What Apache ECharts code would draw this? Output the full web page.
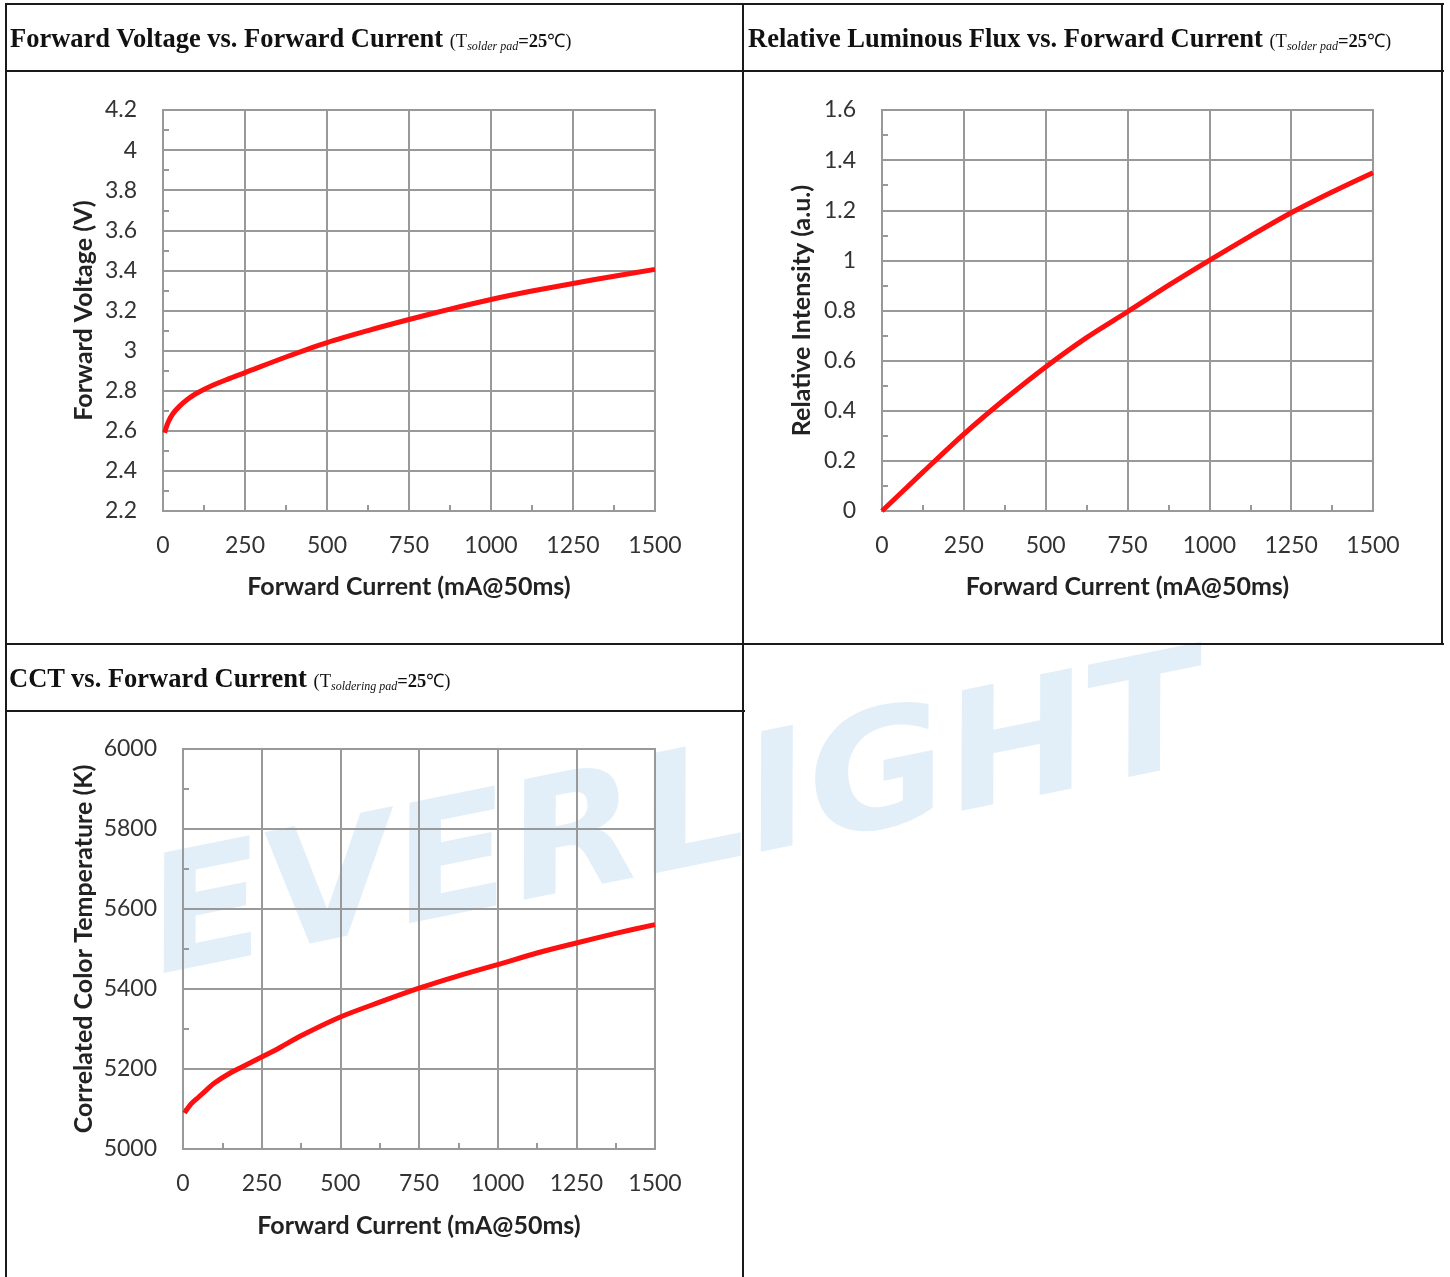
<!DOCTYPE html>
<html>
<head>
<meta charset="utf-8">
<script src="https://cdn.jsdelivr.net/npm/echarts@6/dist/echarts.min.js"></script>
<style>
  body { margin: 0; background: #fff; }
  #page { position: relative; width: 1450px; height: 1277px; overflow: hidden; }
  #chart { position: absolute; left: 0; top: 0; width: 1450px; height: 1277px; }
  .hl, .vl { position: absolute; background: #1a1a1a; }
  .hl { height: 2px; }
  .vl { width: 2px; }
  .head { position: absolute; font-family: "Liberation Serif", serif; font-size: 26.5px; font-weight: bold; color: #111; white-space: nowrap; }
  .head .c { font-size: 18.5px; font-weight: normal; }
  .head sub { font-size: 12px; font-style: italic; vertical-align: -3px; }
  .head .c b { font-weight: bold; }
</style>
</head>
<body>
<div id="page">
  <div id="chart"></div>
  <!-- table borders -->
  <div class="hl" style="left:5px; top:3px; width:1439px"></div>
  <div class="hl" style="left:5px; top:70px; width:1439px"></div>
  <div class="hl" style="left:5px; top:643px; width:1439px"></div>
  <div class="hl" style="left:5px; top:710px; width:740px"></div>
  <div class="vl" style="left:5px; top:3px; height:1274px"></div>
  <div class="vl" style="left:742px; top:3px; height:1274px"></div>
  <div class="vl" style="left:1441px; top:3px; height:642px"></div>
  <!-- headers -->
  <div class="head" style="left:10px; top:23px">Forward Voltage vs. Forward Current <span class="c">(T<sub>solder pad</sub><b>=25</b>℃)</span></div>
  <div class="head" style="left:748px; top:23px">Relative Luminous Flux vs. Forward Current <span class="c">(T<sub>solder pad</sub><b>=25</b>℃)</span></div>
  <div class="head" style="left:9px; top:663px">CCT vs. Forward Current <span class="c">(T<sub>soldering pad</sub><b>=25</b>℃)</span></div>
</div>
<script>
// forward current (mA) vs forward voltage (V)
const vfCurrent = [5, 15, 30, 50, 75, 100, 150, 200, 250, 375, 500, 625, 750, 875, 1000, 1125, 1250, 1375, 1500];
const vfVoltage = [2.59, 2.64, 2.685, 2.722, 2.757, 2.785, 2.826, 2.859, 2.89, 2.968, 3.04, 3.10, 3.155, 3.207, 3.255, 3.297, 3.335, 3.371, 3.405];

// forward current (mA) vs relative luminous flux (a.u.)
const fluxCurrent = [0, 125, 250, 375, 500, 625, 750, 875, 1000, 1125, 1250, 1375, 1500];
const fluxValue = [0, 0.155, 0.307, 0.446, 0.575, 0.692, 0.795, 0.9, 1.0, 1.097, 1.19, 1.273, 1.35];

// forward current (mA) vs CCT (K)
const cctCurrent = [5, 25, 50, 75, 100, 150, 200, 250, 300, 375, 500, 625, 750, 875, 1000, 1125, 1250, 1375, 1500];
const cctValue = [5090, 5112, 5130, 5148, 5165, 5190, 5210, 5230, 5250, 5283, 5330, 5367, 5402, 5433, 5461, 5490, 5515, 5539, 5561];

const xTicks = { min: 0, max: 1500, interval: 250 };
const vfTicks = { min: 2.2, max: 4.2, interval: 0.2 };
const fluxTicks = { min: 0, max: 1.6, interval: 0.2 };
const cctTicks = { min: 5000, max: 6000, interval: 200 };

const xName = 'Forward Current (mA@50ms)';
const yNames = ['Forward Voltage (V)', 'Relative Intensity (a.u.)', 'Correlated Color Temperature (K)'];
const watermark = 'EVERLIGHT';

const gridColor = '#999';
const labelFont = { fontFamily: 'Lato', fontSize: 23, color: '#333' };
const nameFont = { fontFamily: 'Lato', fontSize: 25, fontWeight: 'bold', color: '#222' };

// plain numbers, no thousands separator
const plain = v => String(Math.round(v * 1000) / 1000);

function xAxisOf(gridIndex, gap) {
  return {
    type: 'value', gridIndex, ...xTicks,
    name: xName, nameLocation: 'middle', nameGap: gap, nameTextStyle: nameFont,
    axisLine: { show: true, lineStyle: { color: gridColor, width: 2 } },
    axisTick: { show: false, inside: true },
    minorTick: { show: true, splitNumber: 2, length: 6, lineStyle: { color: gridColor, width: 2 } },
    splitLine: { show: true, lineStyle: { color: gridColor, width: 2 } },
    axisLabel: { ...labelFont, margin: 23, formatter: plain }
  };
}

function yAxisOf(gridIndex, ticks, name, gap) {
  return {
    type: 'value', gridIndex, ...ticks,
    name, nameLocation: 'middle', nameGap: gap, nameRotate: 90, nameTextStyle: nameFont,
    axisLine: { show: true, lineStyle: { color: gridColor, width: 2 } },
    axisTick: { show: false, inside: true },
    minorTick: { show: true, splitNumber: 2, length: 6, lineStyle: { color: gridColor, width: 2 } },
    splitLine: { show: true, lineStyle: { color: gridColor, width: 2 } },
    axisLabel: { ...labelFont, margin: 26, formatter: plain }
  };
}

function lineOf(i, xs, ys) {
  return {
    type: 'line', xAxisIndex: i, yAxisIndex: i,
    data: xs.map((x, k) => [x, ys[k]]),
    smooth: 0.3, showSymbol: false,
    lineStyle: { color: '#ff1010', width: 5 }
  };
}

const chart = echarts.init(document.getElementById('chart'));
chart.setOption({
  animation: false,
  grid: [
    { left: 163, top: 110, width: 492, height: 401, show: true, borderColor: gridColor, borderWidth: 2 },
    { left: 882, top: 110, width: 491, height: 401, show: true, borderColor: gridColor, borderWidth: 2 },
    { left: 183, top: 749, width: 472, height: 400, show: true, borderColor: gridColor, borderWidth: 2 }
  ],
  xAxis: [xAxisOf(0, 63), xAxisOf(1, 63), xAxisOf(2, 64)],
  yAxis: [
    yAxisOf(0, vfTicks, yNames[0], 67),
    yAxisOf(1, fluxTicks, yNames[1], 68),
    yAxisOf(2, cctTicks, yNames[2], 87)
  ],
  series: [
    lineOf(0, vfCurrent, vfVoltage),
    lineOf(1, fluxCurrent, fluxValue),
    lineOf(2, cctCurrent, cctValue)
  ],
  graphic: [{
    type: 'text', z: -100, x: 168, y: 1012, rotation: 11.5 * Math.PI / 180, scaleX: 1.06,
    style: {
      text: watermark, fontFamily: 'DejaVu Sans', fontWeight: 'bold', fontStyle: 'italic',
      fontSize: 162, textVerticalAlign: 'bottom',
      fill: 'rgba(170, 205, 235, 0.33)'
    }
  }]
});
</script>
</body>
</html>
